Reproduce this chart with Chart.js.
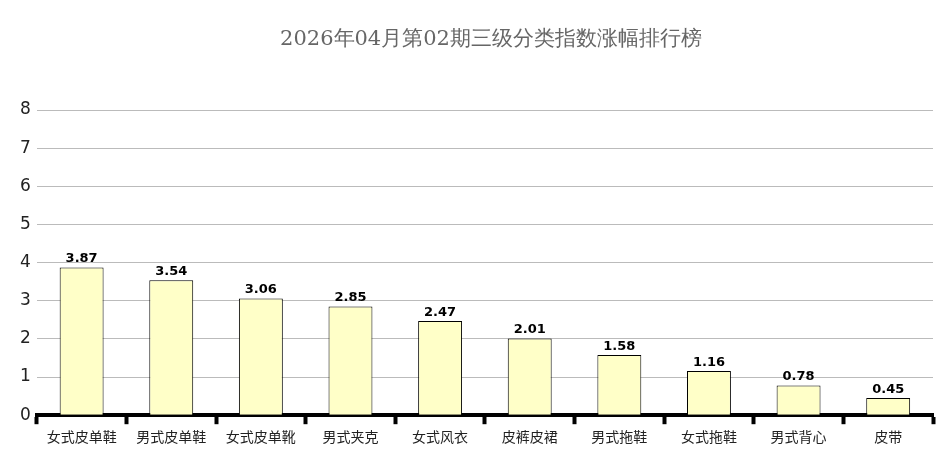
<!DOCTYPE html>
<html>
<head>
<meta charset="utf-8">
<script src="https://cdn.jsdelivr.net/npm/chart.js@4"></script>
<style>
  html, body { margin: 0; padding: 0; background: #fff; }
  #wrap { width: 948px; height: 472px; }
</style>
</head>
<body>
<div id="wrap"><canvas id="rankChart" width="948" height="472"></canvas></div>
<script>
// 分类与涨幅
const categories = ['女式皮单鞋', '男式皮单鞋', '女式皮单靴', '男式夹克', '女式风衣', '皮裤皮裙', '男式拖鞋', '女式拖鞋', '男式背心', '皮带'];
const values = [3.87, 3.54, 3.06, 2.85, 2.47, 2.01, 1.58, 1.16, 0.78, 0.45];
const yTicks = [0, 1, 2, 3, 4, 5, 6, 7, 8];
const chartTitle = '2026年04月第02期三级分类指数涨幅排行榜';

// 标题（比绘图区略偏右）
const titleText = {
    id: 'titleText',
    afterDraw(chart) {
        const ctx = chart.ctx;
        ctx.save();
        ctx.font = '21px "DejaVu Serif", "Liberation Serif", serif';
        ctx.fillStyle = '#666';
        ctx.textAlign = 'center';
        ctx.textBaseline = 'middle';
        ctx.fillText(chartTitle, 491, 40);
        ctx.restore();
    }
};

// 柱顶数值
const valueLabels = {
    id: 'valueLabels',
    afterDatasetsDraw(chart) {
        const ctx = chart.ctx;
        const meta = chart.getDatasetMeta(0);
        ctx.save();
        ctx.font = 'bold 13px "DejaVu Sans", Verdana, sans-serif';
        ctx.fillStyle = '#000';
        ctx.textAlign = 'center';
        ctx.textBaseline = 'bottom';
        meta.data.forEach(function (bar, i) {
            ctx.fillText(values[i].toFixed(2), bar.x, bar.y - 2);
        });
        ctx.restore();
    }
};

const ctx = document.getElementById('rankChart').getContext('2d');
const rankChart = new Chart(ctx, {
    type: 'bar',
    data: {
        labels: categories,
        datasets: [{
            data: values,
            backgroundColor: '#ffffc8',
            borderColor: '#000',
            borderWidth: 1,
            borderSkipped: 'bottom',
            barPercentage: 0.49,
            categoryPercentage: 1
        }]
    },
    options: {
        responsive: false,
        animation: false,
        layout: {
            padding: { left: 14, right: 15, top: 110, bottom: 23 }
        },
        plugins: {
            legend: { display: false },
            tooltip: { enabled: false },
            title: { display: false }
        },
        scales: {
            x: {
                grid: {
                    display: true,
                    offset: true,
                    drawOnChartArea: false,
                    drawTicks: true,
                    tickLength: 9,
                    tickWidth: 4,
                    tickColor: '#000'
                },
                border: { display: true, color: '#000', width: 4 },
                ticks: {
                    color: '#222',
                    padding: 4,
                    font: { family: '"Noto Sans CJK SC", sans-serif', size: 14 }
                }
            },
            y: {
                min: 0,
                max: 8,
                afterBuildTicks: function (axis) {
                    axis.ticks = yTicks.map(function (v) { return { value: v }; });
                },
                grid: {
                    color: '#bbb',
                    lineWidth: 1,
                    drawTicks: false
                },
                border: { display: false },
                ticks: {
                    color: '#222',
                    padding: 6,
                    font: { family: '"DejaVu Sans", Verdana, sans-serif', size: 17 }
                }
            }
        }
    },
    plugins: [valueLabels, titleText]
});
</script>
</body>
</html>
